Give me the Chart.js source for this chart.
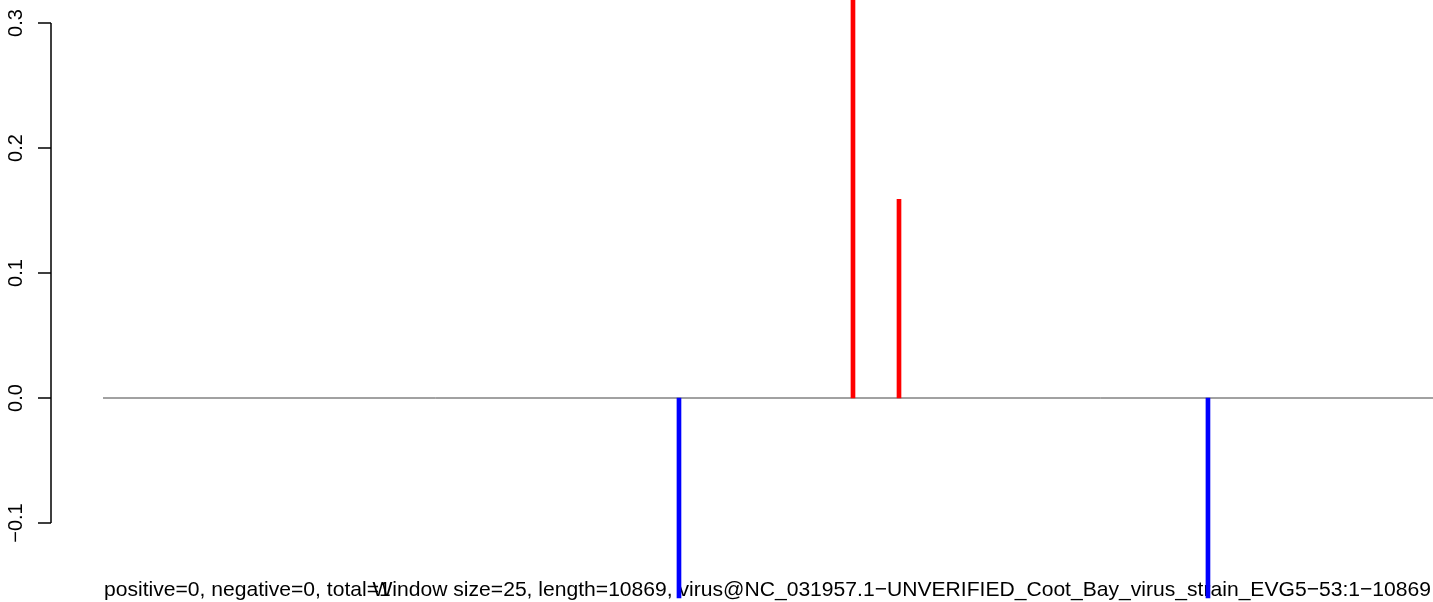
<!DOCTYPE html>
<html>
<head>
<meta charset="utf-8">
<script src="https://cdn.jsdelivr.net/npm/chart.js@4.4.1/dist/chart.umd.min.js"></script>
<style>
html,body{margin:0;padding:0;background:#fff;}
#wrap{width:1433px;height:602px;position:relative;}
</style>
</head>
<body>
<div id="wrap"><canvas id="c" width="1433" height="602"></canvas></div>
<script>
// ---- data ----
const genomeLength = 10869;
const positivePositions = [6129, 6505];
const positiveValues = [0.34, 0.159];
const negativePositions = [4707, 9030];
const negativeValues = [-0.16, -0.16];
const yTickValues = [-0.1, 0.0, 0.1, 0.2, 0.3];
const yTickLabels = ['\u22120.1', '0.0', '0.1', '0.2', '0.3'];
const leftText = 'positive=0, negative=0, total=1';
const rightText = 'Window size=25, length=10869, virus@NC_031957.1\u2212UNVERIFIED_Coot_Bay_virus_strain_EVG5\u221253:1\u221210869';

const FONT = '"Liberation Sans", Arial, Helvetica, sans-serif';

const bottomTextPlugin = {
  id: 'bottomText',
  beforeDatasetsDraw(chart) {
    const ctx = chart.ctx;
    ctx.save();
    ctx.fillStyle = '#000';
    ctx.font = '21.1px ' + FONT;
    ctx.textBaseline = 'alphabetic';
    ctx.textAlign = 'left';
    ctx.fillText(leftText, 104, 596);
    ctx.textAlign = 'right';
    ctx.fillText(rightText, 1431, 596);
    ctx.restore();
  }
};

const yAxisPlugin = {
  id: 'rYAxis',
  afterDraw(chart) {
    const ctx = chart.ctx;
    const ys = chart.scales.y;
    const axisX = 51;
    ctx.save();
    ctx.strokeStyle = '#000';
    ctx.lineWidth = 1.5;
    const yTop = ys.getPixelForValue(yTickValues[yTickValues.length - 1]);
    const yBot = ys.getPixelForValue(yTickValues[0]);
    ctx.beginPath();
    ctx.moveTo(axisX, yTop);
    ctx.lineTo(axisX, yBot);
    yTickValues.forEach(v => {
      const p = ys.getPixelForValue(v);
      ctx.moveTo(axisX, p);
      ctx.lineTo(axisX - 13, p);
    });
    ctx.stroke();
    ctx.fillStyle = '#000';
    ctx.font = '20px ' + FONT;
    ctx.textAlign = 'center';
    ctx.textBaseline = 'alphabetic';
    yTickValues.forEach((v, i) => {
      const p = ys.getPixelForValue(v);
      ctx.save();
      ctx.translate(22, p);
      ctx.rotate(-Math.PI / 2);
      ctx.fillText(yTickLabels[i], 0, 0);
      ctx.restore();
    });
    ctx.restore();
  }
};

new Chart(document.getElementById('c'), {
  type: 'bar',
  data: {
    datasets: [
      {
        type: 'line',
        data: [{x: 0, y: 0}, {x: genomeLength, y: 0}],
        borderColor: '#444444',
        borderWidth: 1,
        pointRadius: 0,
        order: 3
      },
      {
        data: positivePositions.map((p, i) => ({x: p, y: positiveValues[i]})),
        backgroundColor: '#ff0000',
        borderWidth: 0,
        barThickness: 4,
        grouped: false,
        order: 1
      },
      {
        data: negativePositions.map((p, i) => ({x: p, y: negativeValues[i]})),
        backgroundColor: '#0000ff',
        borderWidth: 0,
        barThickness: 4,
        grouped: false,
        order: 2
      }
    ]
  },
  options: {
    responsive: false,
    animation: false,
    events: [],
    layout: {padding: {left: 51, right: 0, top: 0, bottom: 0}},
    plugins: {legend: {display: false}, tooltip: {enabled: false}},
    scales: {
      x: {type: 'linear', min: -425, max: genomeLength, display: false, offset: false},
      y: {type: 'linear', min: -0.1632, max: 0.3184, display: false}
    }
  },
  plugins: [bottomTextPlugin, yAxisPlugin]
});
</script>
</body>
</html>
